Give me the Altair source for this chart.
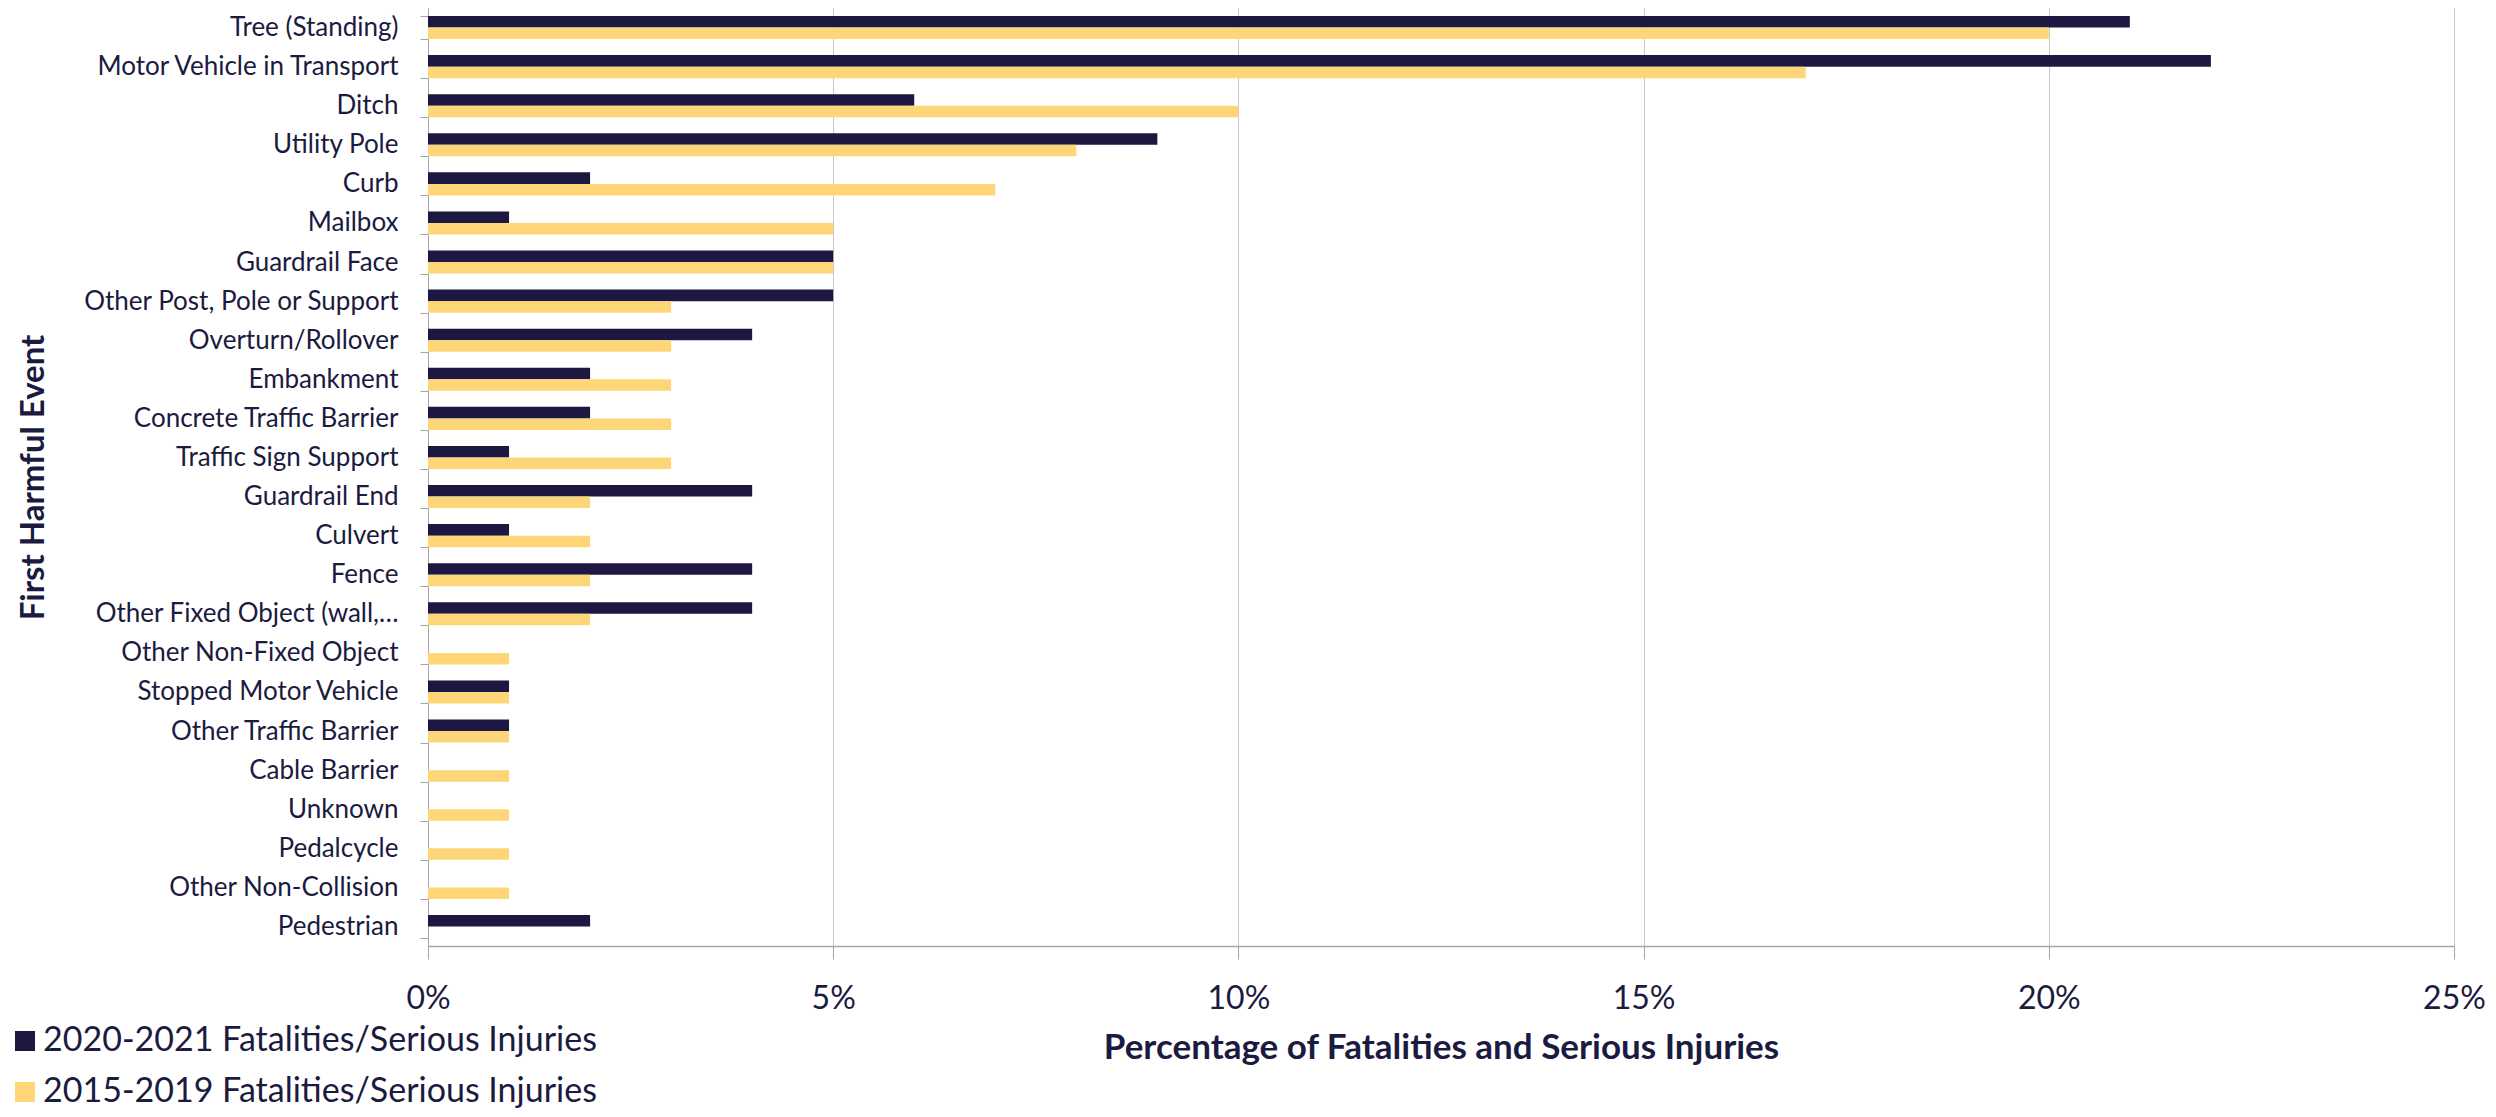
import altair as alt
import pandas as pd

categories = [
    "Tree (Standing)", "Motor Vehicle in Transport", "Ditch", "Utility Pole", "Curb",
    "Mailbox", "Guardrail Face", "Other Post, Pole or Support", "Overturn/Rollover",
    "Embankment", "Concrete Traffic Barrier", "Traffic Sign Support", "Guardrail End",
    "Culvert", "Fence", "Other Fixed Object (wall,\u2026", "Other Non-Fixed Object",
    "Stopped Motor Vehicle", "Other Traffic Barrier", "Cable Barrier", "Unknown",
    "Pedalcycle", "Other Non-Collision", "Pedestrian",
]
series_names = ["2020-2021 Fatalities/Serious Injuries", "2015-2019 Fatalities/Serious Injuries"]
values_2020_2021 = [21, 22, 6, 9, 2, 1, 5, 5, 4, 2, 2, 1, 4, 1, 4, 4, 0, 1, 1, 0, 0, 0, 0, 2]
values_2015_2019 = [20, 17, 10, 8, 7, 5, 5, 3, 3, 3, 3, 3, 2, 2, 2, 2, 1, 1, 1, 1, 1, 1, 1, 0]
colors = ["#1D1842", "#FFD677"]
x_ticks = [0, 0.05, 0.10, 0.15, 0.20, 0.25]

rows = []
for c, a, b in zip(categories, values_2020_2021, values_2015_2019):
    rows.append({"event": c, "series": series_names[0], "pct": a / 100})
    rows.append({"event": c, "series": series_names[1], "pct": b / 100})
df = pd.DataFrame(rows)

text_color = "#1B1A40"
font = "Lato"

chart = alt.Chart(df).mark_bar().encode(
    y=alt.Y(
        "event:N", sort=categories,
        scale=alt.Scale(paddingInner=0.41, paddingOuter=0.205),
        axis=alt.Axis(
            title="First Harmful Event", tickBand="extent", tickSize=8,
            tickColor="#A6A6A6", domainColor="#A6A6A6", labelPadding=22,
            labelFont=font, labelFontSize=26, labelColor=text_color, labelLimit=400,
            titleFont=font, titleFontSize=33, titleFontWeight="bold", titleColor=text_color,
            titleX=-395, titleY=469, titleAngle=-90, titleBaseline="middle", titleAlign="center",
            grid=False,
        ),
    ),
    yOffset=alt.YOffset("series:N", sort=series_names),
    x=alt.X(
        "pct:Q",
        scale=alt.Scale(domain=[0, 0.25], nice=False),
        axis=alt.Axis(
            title="Percentage of Fatalities and Serious Injuries", format=".0%", values=x_ticks,
            tickSize=13, tickColor="#A6A6A6", domainColor="#A6A6A6", domainWidth=1.5,
            labelPadding=24, labelFlush=False, labelFont=font, labelFontSize=32, labelColor=text_color,
            titleFont=font, titleFontSize=35, titleFontWeight="bold", titleColor=text_color,
            titlePadding=16, grid=True, gridColor="#C8C8C8",
        ),
    ),
    color=alt.Color(
        "series:N", sort=series_names,
        scale=alt.Scale(domain=series_names, range=colors),
        legend=alt.Legend(
            title=None, orient="none", legendX=-420, legendY=1016, direction="vertical",
            padding=0, symbolType="square", symbolSize=400, symbolStrokeWidth=0, rowPadding=17,
            labelOffset=1, labelFont=font, labelFontSize=34, labelColor=text_color, labelLimit=800,
        ),
    ),
).properties(
    width=2026, height=938,
    padding={"left": 420, "top": 0, "right": 34, "bottom": 163},
    autosize=alt.AutoSizeParams(type="none"),
).configure_view(stroke=None)

chart.save("out.html", embed_options={"renderer": "svg", "actions": False})
